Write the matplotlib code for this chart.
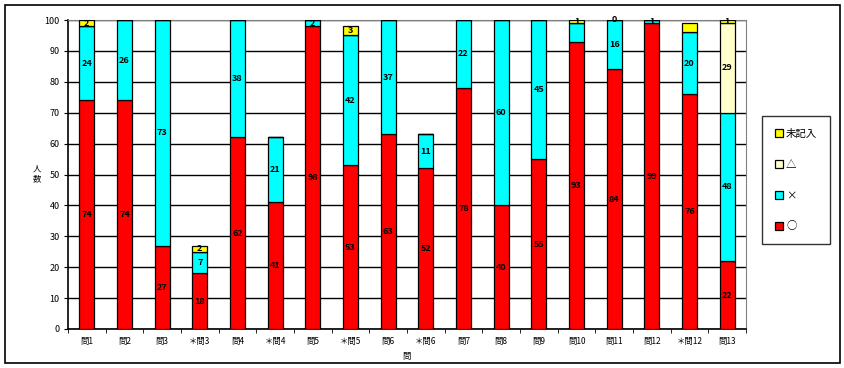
import numpy as np
import matplotlib.pyplot as plt
from matplotlib.patches import Rectangle

plt.rcParams['font.family'] = ['Noto Sans CJK JP', 'DejaVu Sans']

# 設問
categories = ['問1', '問2', '問3', '＊問3', '問4', '＊問4', '問5', '＊問5', '問6',
              '＊問6', '問7', '問8', '問9', '問10', '問11', '問12', '＊問12', '問13']
maru = [74, 74, 27, 18, 62, 41, 98, 53, 63, 52, 78, 40, 55, 93, 84, 99, 76, 22]
batsu = [24, 26, 73, 7, 38, 21, 2, 42, 37, 11, 22, 60, 45, 6, 16, 1, 20, 48]
sankaku = [0, 0, 0, 0, 0, 0, 0, 0, 0, 0, 0, 0, 0, 0, 0, 0, 0, 29]
mikinyu = [2, 0, 0, 2, 0, 0, 0, 3, 0, 0, 0, 0, 0, 1, 0, 0, 3, 1]
# 表示しないラベル (系列, 設問番号)
hidden = {('batsu', 13), ('mikinyu', 16)}

series = [('maru', maru, '#ff0000', '○'),
          ('batsu', batsu, '#00ffff', '×'),
          ('sankaku', sankaku, '#ffffcc', '△'),
          ('mikinyu', mikinyu, '#ffff00', '未記入')]

fig = plt.figure(figsize=(8.45, 3.68), dpi=100)
# 外枠
fig.patches.append(Rectangle((5/845, 5/368), 835/845, 358/368, transform=fig.transFigure,
                             fill=False, edgecolor='black', linewidth=1.2))
ax = fig.add_axes([68/845, 1 - 329/368, 678/845, 309/368])

x = np.arange(len(categories))
bottom = np.zeros(len(categories))
for name, vals, col, lab in series:
    vals = np.array(vals, dtype=float)
    ax.bar(x, vals, 0.4, bottom=bottom, color=col, edgecolor='black', linewidth=0.9,
           label=lab, zorder=3)
    for i, v in enumerate(vals):
        if (name == 'sankaku' and v == 0) or (name == 'mikinyu' and v == 0 and i != 14):
            continue
        if (name, i) in hidden:
            continue
        if name == 'batsu' and v == 0:
            continue
        ax.text(x[i], bottom[i] + v / 2, '%d' % v, ha='center', va='center',
                fontsize=6.5, fontweight='bold', zorder=4)
    bottom += vals

ax.set_xlim(-0.5, len(categories) - 0.5)
ax.set_ylim(0, 100)
ax.set_yticks(np.arange(0, 101, 10))
ax.yaxis.grid(True, color='black', linewidth=1.0, zorder=0)
ax.set_axisbelow(True)
ax.set_xticks(x)
ax.set_xticklabels(categories, fontsize=6)
ax.set_xticks(np.arange(-0.5, len(categories)), minor=True)
ax.tick_params(axis='x', which='major', length=0, pad=6)
ax.tick_params(axis='x', which='minor', length=3, direction='out')
ax.tick_params(axis='y', labelsize=6.5, length=3, pad=3)
for s in ['top', 'right']:
    ax.spines[s].set_color('#808080')
for s in ['left', 'bottom']:
    ax.spines[s].set_linewidth(1.2)

fig.text(37/845, 1 - 174/368, '人\n数', fontsize=6, ha='center', va='center',
         linespacing=1.0)
fig.text(406/845, 1 - 357/368, '問', fontsize=6, ha='center', va='center')

h, l = ax.get_legend_handles_labels()
leg = fig.legend(h[::-1], l[::-1], loc='upper left', bbox_to_anchor=(757/845, 1 - 111/368),
                 frameon=True, fancybox=False, fontsize=7.5, handlelength=0.8,
                 handleheight=0.8, labelspacing=2.0, borderpad=1.2, handletextpad=0.3)
leg.get_frame().set_edgecolor('black')
leg.get_frame().set_linewidth(1.0)

fig.savefig('out.png', dpi=100)
